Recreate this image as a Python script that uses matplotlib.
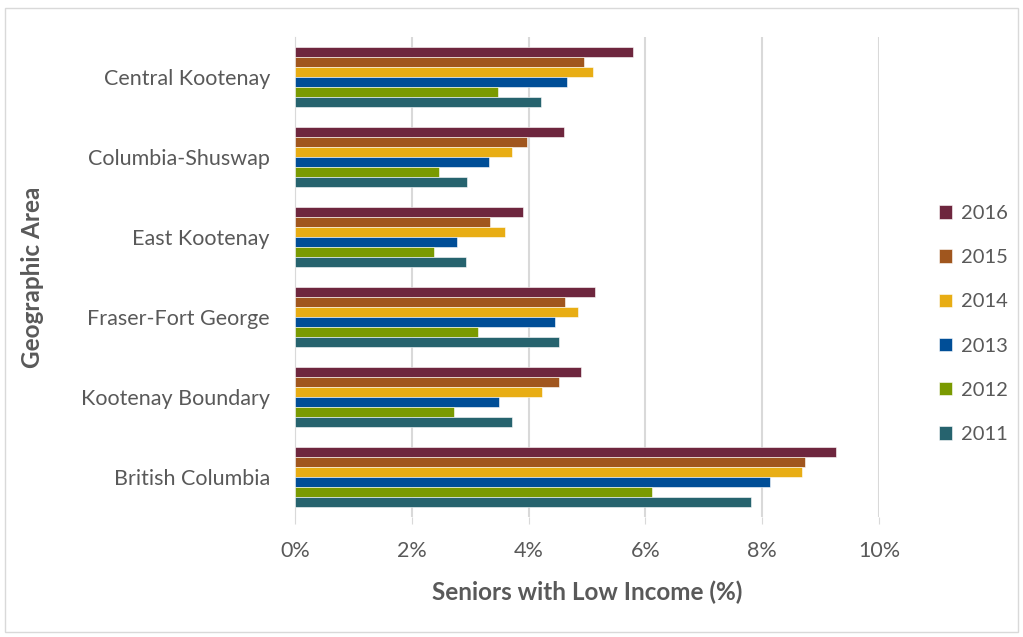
import matplotlib
matplotlib.use("Agg")
import matplotlib.pyplot as plt
import matplotlib.patches as patches
import numpy as np

areas = ["Central Kootenay", "Columbia-Shuswap", "East Kootenay",
         "Fraser-Fort George", "Kootenay Boundary", "British Columbia"]
years = ["2016", "2015", "2014", "2013", "2012", "2011"]
colors = ["#6E263E", "#A0561E", "#E8AD14", "#004E97", "#7A9A01", "#26636E"]

# low income seniors (%) per year, same order as areas
v2016 = [5.78, 4.61, 3.90, 5.13, 4.89, 9.27]
v2015 = [4.95, 3.97, 3.34, 4.62, 4.52, 8.73]
v2014 = [5.11, 3.72, 3.59, 4.85, 4.23, 8.68]
v2013 = [4.66, 3.32, 2.77, 4.46, 3.49, 8.14]
v2012 = [3.48, 2.46, 2.38, 3.14, 2.72, 6.11]
v2011 = [4.22, 2.94, 2.92, 4.52, 3.72, 7.80]
series = [v2016, v2015, v2014, v2013, v2012, v2011]

plt.rcParams["font.family"] = ["Lato", "DejaVu Sans"]
grey = "#595959"

fig = plt.figure(figsize=(10.23, 6.37), dpi=100)
ax = fig.add_axes([295 / 1023, 1 - 517 / 637, 584 / 1023, 480 / 637])

y = np.arange(len(areas))
h = 0.127
for k, (yr, vals, c) in enumerate(zip(years, series, colors)):
    ax.barh(y + (k - 2.5) * h, vals, height=h, color=c, label=yr,
            edgecolor="white", linewidth=0.4, zorder=3)

ax.set_xlim(0, 10)
ax.set_ylim(len(areas) - 0.5, -0.5)
ax.set_xticks(np.arange(0, 11, 2))
ax.set_xticklabels([f"{t}%" for t in range(0, 11, 2)])
ax.set_yticks(y)
ax.set_yticklabels(areas)
ax.grid(axis="x", color="#D9D9D9", linewidth=1.5, zorder=0)
for s in ["top", "right", "bottom"]:
    ax.spines[s].set_visible(False)
ax.spines["left"].set_color("#D9D9D9")
ax.tick_params(axis="y", length=0, labelsize=15.5, labelcolor=grey, pad=18)
ax.tick_params(axis="x", length=5, color="#D9D9D9", labelsize=15.5,
               labelcolor=grey, pad=12)

ax.set_xlabel("Seniors with Low Income (%)", fontsize=17.5, fontweight="bold",
              color=grey, va="center")
ax.xaxis.set_label_coords(0.5, -0.156)
ax.set_ylabel("Geographic Area", fontsize=17.5, fontweight="bold",
              color=grey, va="center")
ax.yaxis.set_label_coords(-0.45, 0.5)

leg = fig.legend(loc="center left", bbox_to_anchor=(921 / 1023, 1 - 324 / 637),
                 frameon=False, fontsize=14.5, labelcolor=grey,
                 handlelength=0.65, handleheight=0.65, handletextpad=0.45,
                 labelspacing=1.35)

fig.patches.append(patches.Rectangle((5 / 1023, 5 / 637), 1013 / 1023, 624 / 637,
                                     transform=fig.transFigure, fill=False,
                                     edgecolor="#D9D9D9", linewidth=1))

fig.savefig("out.png", dpi=100, facecolor="white")
